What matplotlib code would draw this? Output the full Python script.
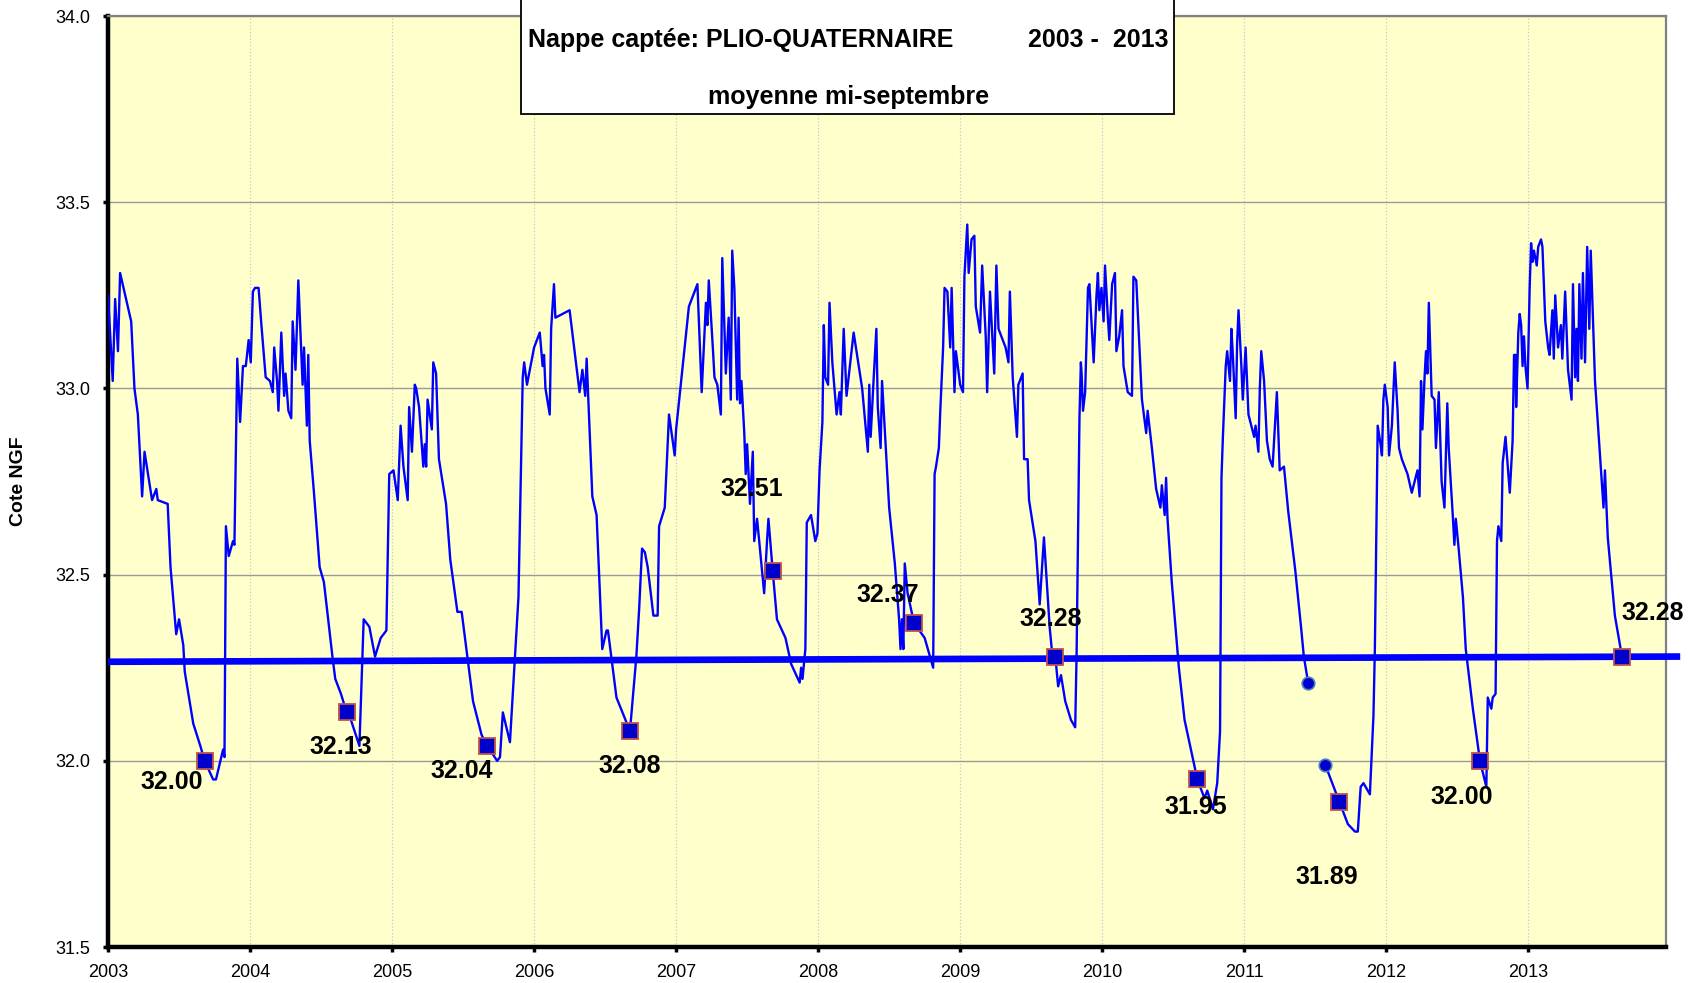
import numpy as np
import matplotlib
matplotlib.use("Agg")
import matplotlib.pyplot as plt
from matplotlib.patches import Rectangle
from matplotlib.ticker import FormatStrFormatter

plt.rcParams['font.family'] = ['Liberation Sans', 'DejaVu Sans']

# niveau piezometrique (annee decimale, cote NGF)
t_niv = [2003.0, 2003.033, 2003.05, 2003.07, 2003.085, 2003.163, 2003.186, 2003.21, 2003.24, 2003.257,
         2003.31, 2003.34, 2003.35, 2003.42, 2003.44, 2003.48, 2003.50, 2003.53, 2003.54, 2003.60,
         2003.65, 2003.68, 2003.74, 2003.76, 2003.81, 2003.82, 2003.83, 2003.85, 2003.88, 2003.89,
         2003.91, 2003.93, 2003.95, 2003.97, 2003.99, 2004.005, 2004.02, 2004.035, 2004.06, 2004.08,
         2004.11, 2004.14, 2004.16, 2004.17, 2004.19, 2004.20, 2004.22, 2004.24, 2004.25, 2004.27,
         2004.29, 2004.30, 2004.32, 2004.34, 2004.37, 2004.38, 2004.40, 2004.41, 2004.42, 2004.45,
         2004.49, 2004.52, 2004.58, 2004.60, 2004.64, 2004.68, 2004.71, 2004.77, 2004.80, 2004.84,
         2004.88, 2004.92, 2004.96, 2004.98, 2005.01, 2005.04, 2005.06, 2005.08, 2005.11, 2005.12,
         2005.14, 2005.16, 2005.17,
         # 2005 - 2007
         2005.19, 2005.22, 2005.23, 2005.24, 2005.25, 2005.28, 2005.29, 2005.31, 2005.33, 2005.38,
         2005.41, 2005.46, 2005.49, 2005.52, 2005.57, 2005.63, 2005.67, 2005.74, 2005.76, 2005.78,
         2005.83, 2005.89, 2005.92, 2005.93, 2005.95, 2006.00, 2006.04, 2006.06, 2006.07, 2006.08,
         2006.11, 2006.12, 2006.14, 2006.15, 2006.25, 2006.32, 2006.34, 2006.36, 2006.37, 2006.41,
         2006.44, 2006.48, 2006.51, 2006.52, 2006.58, 2006.675, 2006.72, 2006.74, 2006.76, 2006.78,
         2006.80, 2006.84, 2006.87, 2006.88, 2006.92, 2006.95, 2006.99, 2007.00, 2007.09, 2007.15,
         2007.18, 2007.21, 2007.22, 2007.23, 2007.26, 2007.27, 2007.29, 2007.315, 2007.325, 2007.35,
         2007.37, 2007.385, 2007.395, 2007.41,
         # 2007 - 2009
         2007.43, 2007.44, 2007.45, 2007.46, 2007.48, 2007.49, 2007.50, 2007.52, 2007.54, 2007.55,
         2007.57, 2007.62, 2007.64, 2007.65, 2007.68, 2007.71, 2007.77, 2007.81, 2007.87, 2007.88,
         2007.89, 2007.91, 2007.92, 2007.95, 2007.98, 2007.995, 2008.01, 2008.03, 2008.04, 2008.05,
         2008.07, 2008.08, 2008.10, 2008.13, 2008.15, 2008.16, 2008.18, 2008.20, 2008.25, 2008.31,
         2008.35, 2008.36, 2008.37, 2008.39, 2008.41, 2008.42, 2008.44, 2008.45, 2008.50, 2008.54,
         2008.57, 2008.58, 2008.59, 2008.60, 2008.61, 2008.63, 2008.675, 2008.75, 2008.81, 2008.82,
         2008.83, 2008.85, 2008.86, 2008.88, 2008.89, 2008.91, 2008.93, 2008.94, 2008.96, 2008.97,
         2009.00, 2009.02, 2009.03, 2009.05, 2009.06, 2009.08, 2009.10, 2009.11, 2009.14, 2009.155,
         2009.18, 2009.19, 2009.21, 2009.24, 2009.255, 2009.27, 2009.32, 2009.34, 2009.35, 2009.37,
         2009.40, 2009.41, 2009.44, 2009.45, 2009.475, 2009.485, 2009.53, 2009.56, 2009.59, 2009.63,
         2009.65,
         # 2009 - 2011
         2009.67, 2009.69, 2009.71, 2009.74, 2009.78, 2009.81, 2009.82, 2009.84, 2009.85, 2009.855,
         2009.865, 2009.88, 2009.90, 2009.91, 2009.93, 2009.94, 2009.96, 2009.97, 2009.98, 2009.995,
         2010.01, 2010.02, 2010.04, 2010.05, 2010.07, 2010.09, 2010.10, 2010.12, 2010.14, 2010.15,
         2010.18, 2010.21, 2010.22, 2010.24, 2010.28, 2010.31, 2010.32, 2010.35, 2010.38, 2010.41,
         2010.42, 2010.44, 2010.45, 2010.46, 2010.49, 2010.54, 2010.58, 2010.67, 2010.72, 2010.74,
         2010.78, 2010.81, 2010.83, 2010.84, 2010.85, 2010.87, 2010.88, 2010.90, 2010.91, 2010.92,
         2010.94, 2010.95, 2010.96, 2010.98, 2010.99, 2011.01, 2011.03, 2011.07, 2011.08, 2011.10,
         2011.11, 2011.12, 2011.14, 2011.16, 2011.18, 2011.20, 2011.23, 2011.25, 2011.28, 2011.31,
         2011.36, 2011.40, 2011.42, 2011.45, 2011.51, 2011.57, 2011.67, 2011.73, 2011.78, 2011.80,
         2011.82, 2011.84,
         # 2011 - 2013
         2011.885, 2011.91, 2011.92, 2011.94, 2011.96, 2011.97, 2011.98, 2011.99, 2012.01, 2012.02,
         2012.04, 2012.06, 2012.08, 2012.09, 2012.11, 2012.15, 2012.18, 2012.22, 2012.235, 2012.245,
         2012.255, 2012.27, 2012.28, 2012.29, 2012.30, 2012.32, 2012.34, 2012.35, 2012.37, 2012.39,
         2012.41, 2012.43, 2012.44, 2012.47, 2012.48, 2012.49, 2012.51, 2012.54, 2012.56, 2012.61,
         2012.66, 2012.705, 2012.715, 2012.74, 2012.75, 2012.77, 2012.78, 2012.79, 2012.81, 2012.82,
         2012.84, 2012.86, 2012.87, 2012.89, 2012.90, 2012.91, 2012.915, 2012.93, 2012.94, 2012.95,
         2012.96, 2012.97, 2012.98, 2012.995, 2013.01, 2013.02, 2013.03, 2013.04, 2013.06, 2013.07,
         2013.09, 2013.10, 2013.12, 2013.14, 2013.15, 2013.17, 2013.18, 2013.19, 2013.21, 2013.23,
         2013.24, 2013.26, 2013.28, 2013.305, 2013.315, 2013.33, 2013.34, 2013.35, 2013.36, 2013.375,
         2013.385, 2013.40, 2013.415, 2013.43, 2013.44, 2013.46, 2013.47, 2013.53, 2013.54, 2013.56,
         2013.61, 2013.66, 2013.67]

niv = [33.25, 33.02, 33.24, 33.10, 33.31, 33.18, 33.00, 32.93, 32.71, 32.83,
       32.70, 32.73, 32.70, 32.69, 32.52, 32.34, 32.38, 32.31, 32.24, 32.10,
       32.04, 32.00, 31.95, 31.95, 32.03, 32.01, 32.63, 32.55, 32.59, 32.58,
       33.08, 32.91, 33.06, 33.06, 33.13, 33.07, 33.26, 33.27, 33.27, 33.17,
       33.03, 33.02, 32.99, 33.11, 33.02, 32.94, 33.15, 32.98, 33.04, 32.94,
       32.92, 33.18, 33.05, 33.29, 33.01, 33.11, 32.90, 33.09, 32.86, 32.72,
       32.52, 32.48, 32.28, 32.22, 32.18, 32.13, 32.11, 32.04, 32.38, 32.36,
       32.28, 32.33, 32.35, 32.77, 32.78, 32.70, 32.90, 32.79, 32.70, 32.95,
       32.83, 33.01, 33.00,
       32.95, 32.79, 32.85, 32.79, 32.97, 32.89, 33.07, 33.04, 32.81, 32.69,
       32.54, 32.40, 32.40, 32.31, 32.16, 32.07, 32.04, 32.00, 32.01, 32.13,
       32.05, 32.44, 33.03, 33.07, 33.01, 33.11, 33.15, 33.06, 33.09, 33.00,
       32.93, 33.16, 33.28, 33.19, 33.21, 32.99, 33.05, 32.98, 33.08, 32.71,
       32.66, 32.30, 32.35, 32.35, 32.17, 32.08, 32.28, 32.41, 32.57, 32.56,
       32.52, 32.39, 32.39, 32.63, 32.68, 32.93, 32.82, 32.89, 33.22, 33.28,
       32.99, 33.23, 33.17, 33.29, 33.10, 33.03, 33.01, 32.93, 33.35, 33.04,
       33.19, 32.97, 33.37, 33.27,
       32.97, 33.19, 32.96, 33.02, 32.88, 32.77, 32.85, 32.69, 32.83, 32.59,
       32.65, 32.45, 32.59, 32.65, 32.51, 32.38, 32.33, 32.26, 32.21, 32.25,
       32.22, 32.30, 32.64, 32.66, 32.59, 32.61, 32.78, 32.91, 33.17, 33.03,
       33.01, 33.23, 33.07, 32.93, 32.99, 32.93, 33.16, 32.98, 33.15, 33.00,
       32.83, 33.01, 32.87, 33.02, 33.16, 32.95, 32.84, 33.02, 32.68, 32.53,
       32.38, 32.30, 32.38, 32.30, 32.53, 32.45, 32.37, 32.33, 32.25, 32.77,
       32.79, 32.84, 32.94, 33.11, 33.27, 33.26, 33.11, 33.27, 32.99, 33.10,
       33.01, 32.99, 33.30, 33.44, 33.31, 33.40, 33.41, 33.22, 33.15, 33.33,
       33.14, 32.99, 33.26, 33.04, 33.33, 33.16, 33.11, 33.07, 33.26, 33.03,
       32.87, 33.01, 33.04, 32.81, 32.81, 32.70, 32.59, 32.42, 32.60, 32.36,
       32.28,
       32.28, 32.20, 32.23, 32.16, 32.11, 32.09, 32.29, 32.92, 33.07, 33.04,
       32.94, 32.99, 33.27, 33.28, 33.14, 33.07, 33.25, 33.31, 33.21, 33.27,
       33.18, 33.33, 33.19, 33.13, 33.28, 33.31, 33.10, 33.14, 33.21, 33.06,
       32.99, 32.98, 33.30, 33.29, 32.97, 32.88, 32.94, 32.84, 32.73, 32.68,
       32.74, 32.66, 32.76, 32.65, 32.48, 32.25, 32.11, 31.95, 31.90, 31.92,
       31.87, 31.94, 32.08, 32.76, 32.87, 33.06, 33.10, 33.02, 33.16, 33.09,
       32.92, 33.12, 33.21, 33.06, 32.97, 33.11, 32.93, 32.87, 32.90, 32.83,
       33.00, 33.10, 33.02, 32.86, 32.81, 32.79, 32.99, 32.78, 32.79, 32.67,
       32.51, 32.36, 32.28, 32.21, np.nan, 31.99, 31.89, 31.83, 31.81, 31.81,
       31.93, 31.94,
       31.91, 32.12, 32.30, 32.90, 32.85, 32.82, 32.97, 33.01, 32.95, 32.82,
       32.90, 33.07, 32.94, 32.84, 32.81, 32.77, 32.72, 32.78, 32.71, 33.02,
       32.89, 33.03, 33.10, 33.04, 33.23, 32.98, 32.97, 32.84, 32.99, 32.75,
       32.68, 32.96, 32.84, 32.65, 32.58, 32.65, 32.57, 32.44, 32.30, 32.14,
       32.00, 31.93, 32.17, 32.14, 32.17, 32.18, 32.59, 32.63, 32.59, 32.80,
       32.87, 32.77, 32.72, 32.86, 33.09, 33.09, 32.95, 33.15, 33.20, 33.17,
       33.06, 33.14, 33.06, 33.00, 33.27, 33.39, 33.34, 33.37, 33.33, 33.38,
       33.40, 33.38, 33.18, 33.11, 33.09, 33.21, 33.08, 33.25, 33.11, 33.17,
       33.08, 33.26, 33.05, 32.97, 33.28, 33.03, 33.16, 33.02, 33.28, 33.08,
       33.31, 33.07, 33.38, 33.16, 33.37, 33.14, 33.02, 32.68, 32.78, 32.60,
       32.39, 32.28, 32.26]

# moyennes mi-septembre
t_sept = [2003.68, 2004.68, 2005.67, 2006.675, 2007.68, 2008.675, 2009.67, 2010.67, 2011.67, 2012.66, 2013.66]
niv_sept = [32.00, 32.13, 32.04, 32.08, 32.51, 32.37, 32.28, 31.95, 31.89, 32.00, 32.28]
# decalage des etiquettes (points)
decal = [(-24, -15), (-4, -25), (-18, -18), (0, -25), (-15, 59), (-19, 20),
         (-3, 27), (-1, -20), (-9, -54), (-13, -26), (22, 31)]

# points isoles de 2011 (bornes de la lacune)
t_pts = [2011.45, 2011.57]
niv_pts = [32.21, 31.99]

# droite de tendance
t_tend = [2003.0, 2014.07]
niv_tend = [32.266, 32.280]

annees = np.arange(2003, 2014)

fig = plt.figure(figsize=(17.04, 9.83), dpi=100)
ax = fig.add_axes([0.0634, 0.0366, 0.9143, 0.9471])
ax.set_facecolor('#FFFFCC')

ax.plot(t_niv, niv, color='#0000FF', lw=1.7, zorder=3)
ax.plot(t_tend, niv_tend, color='#0000FF', lw=4.8, zorder=4, clip_on=False,
        solid_capstyle='butt')
ax.plot(t_pts, niv_pts, 'o', ms=9, mfc='#0000CC', mec='#4A7EBB', mew=1.2, zorder=5)
ax.plot(t_sept, niv_sept, 's', ms=11.5, mfc='#0000CC', mec='#C0504D', mew=1.3, zorder=6)

for x, y, d in zip(t_sept, niv_sept, decal):
    ax.annotate(f"{y:.2f}", (x, y), xytext=d, textcoords='offset points',
                ha='center', va='center', fontsize=18, fontweight='bold', zorder=7)

ax.set_xlim(2003, 2013.97)
ax.set_ylim(31.5, 34.0)
ax.set_xticks(annees)
ax.set_yticks(np.arange(31.5, 34.01, 0.5))
ax.yaxis.set_major_formatter(FormatStrFormatter('%.1f'))
ax.tick_params(axis='both', direction='out', length=3.5, width=2.5, labelsize=13,
               color='black', pad=9)

ax.grid(axis='y', color='#9a9a9a', lw=1.0)
ax.grid(axis='x', color='#c8c8c8', lw=0.9, ls=':')
ax.set_axisbelow(True)

for s in ['left', 'bottom']:
    ax.spines[s].set_linewidth(3.2)
    ax.spines[s].set_color('black')
for s in ['top', 'right']:
    ax.spines[s].set_linewidth(1.6)
    ax.spines[s].set_color('#808080')

ax.set_ylabel("Cote NGF", fontsize=14, fontweight='bold')
ax.yaxis.set_label_coords(-0.052, 0.5)

# cartouche de titre
fig.patches.append(Rectangle((0.3058, 0.884), 0.3832, 0.2, transform=fig.transFigure,
                             facecolor='white', edgecolor='black', lw=1.3, zorder=10))
fig.text(0.310, 1 - 40 / 983, "Nappe captée: PLIO-QUATERNAIRE", ha='left', va='center',
         fontsize=18, fontweight='bold', zorder=11)
fig.text(0.6855, 1 - 40 / 983, "2003 -  2013", ha='right', va='center',
         fontsize=18, fontweight='bold', zorder=11)
fig.text(0.4977, 1 - 97 / 983, "moyenne mi-septembre", ha='center', va='center',
         fontsize=18, fontweight='bold', zorder=11)

fig.savefig("out.png", dpi=100)
